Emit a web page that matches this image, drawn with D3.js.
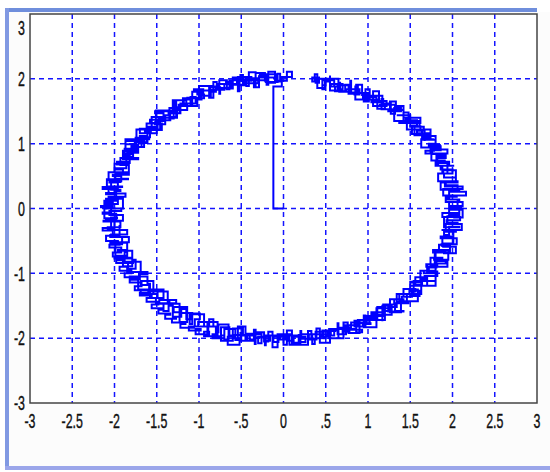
<!DOCTYPE html>
<html>
<head>
<script src="https://d3js.org/d3.v7.min.js"></script>
<style>
  body { margin: 0; background: #fff; }
</style>
</head>
<body>
<div id="chart"></div>
<script>
// axis ticks
var xTicks = [-3, -2.5, -2, -1.5, -1, -0.5, 0, 0.5, 1, 1.5, 2, 2.5, 3];
var xTickLabels = ["-3", "-2.5", "-2", "-1.5", "-1", "-.5", "0", ".5", "1", "1.5", "2", "2.5", "3"];
var yTicks = [-3, -2, -1, 0, 1, 2, 3];
var yTickLabels = ["-3", "-2", "-1", "0", "1", "2", "3"];

// trace (stair plot): out anticlockwise...
var traceOut = [
  [0, 0], [-0.12, 1.88],
  [-0.02, 2.03], [0.1, 2.11], [0.04, 1.97], [-0.08, 2.07], [-0.2, 1.94], [-0.1, 2.02], [-0.28, 2.06], [-0.18, 1.98],
  [-0.36, 2.01], [-0.3, 1.93], [-0.45, 2.03], [-0.38, 1.97], [-0.52, 1.9], [-0.46, 1.99], [-0.6, 2.02], [-0.55, 1.92],
  [-0.68, 1.95], [-0.62, 1.86], [-0.78, 1.92], [-0.7, 1.83], [-0.88, 1.88], [-0.8, 1.8], [-0.86, 1.74], [-0.95, 1.84],
  [-1.02, 1.76], [-0.94, 1.7], [-1.1, 1.72], [-1.04, 1.62], [-1.18, 1.68], [-1.1, 1.58], [-1.24, 1.6], [-1.14, 1.52],
  [-1.3, 1.56], [-1.22, 1.47], [-1.36, 1.5], [-1.26, 1.4], [-1.42, 1.44], [-1.34, 1.36], [-1.48, 1.38], [-1.4, 1.3],
  [-1.52, 1.33], [-1.46, 1.22], [-1.6, 1.26], [-1.5, 1.16], [-1.64, 1.2], [-1.58, 1.1], [-1.7, 1.12], [-1.62, 1.02],
  [-1.76, 1.05], [-1.68, 0.95], [-1.8, 0.98], [-1.72, 0.86], [-1.85, 0.9], [-1.78, 0.8], [-1.9, 0.82], [-1.82, 0.7],
  [-1.94, 0.72], [-1.86, 0.62], [-1.98, 0.6], [-1.9, 0.52], [-2.02, 0.5], [-1.92, 0.42], [-2.06, 0.4], [-1.96, 0.3],
  [-2.14, 0.33], [-2.0, 0.22], [-2.1, 0.24], [-1.98, 0.12], [-2.12, 0.1], [-2.02, 0.02], [-2.16, 0.04], [-2.04, -0.06],
  [-2.14, -0.08], [-1.98, -0.16], [-2.1, -0.2], [-2.0, -0.3], [-2.14, -0.34], [-2.02, -0.42], [-2.1, -0.5], [-1.96, -0.56],
  [-2.06, -0.6], [-1.92, -0.68], [-2.02, -0.74], [-1.88, -0.8], [-1.98, -0.84], [-1.84, -0.9], [-1.94, -0.96], [-1.8, -1.0],
  [-1.88, -1.06], [-1.74, -1.1], [-1.82, -1.14], [-1.68, -1.2], [-1.76, -1.26], [-1.6, -1.3], [-1.7, -1.34], [-1.56, -1.38],
  [-1.62, -1.44], [-1.48, -1.48], [-1.56, -1.54], [-1.42, -1.56], [-1.48, -1.62], [-1.34, -1.64], [-1.4, -1.7], [-1.26, -1.7],
  [-1.32, -1.76], [-1.16, -1.78], [-1.22, -1.84], [-1.06, -1.82], [-1.12, -1.88], [-0.98, -1.86], [-1.04, -1.94], [-0.88, -1.9],
  [-0.94, -1.97], [-0.78, -1.94], [-0.84, -2.0], [-0.7, -1.96], [-0.74, -2.04], [-0.6, -1.98], [-0.66, -2.1], [-0.52, -2.0],
  [-0.58, -1.95], [-0.44, -2.04], [-0.5, -1.96], [-0.34, -2.02], [-0.4, -1.94], [-0.26, -2.08], [-0.3, -1.98], [-0.16, -2.04],
  [-0.22, -1.96], [-0.06, -2.06], [-0.12, -1.98], [0.02, -2.02],
  [-0.04, -1.94], [0.1, -2.04], [0.06, -1.96], [0.18, -2.08], [0.12, -1.98], [0.26, -2.06], [0.2, -1.94], [0.34, -2.02],
  [0.3, -1.94], [0.44, -2.0], [0.38, -1.9], [0.52, -1.98], [0.46, -1.88], [0.6, -1.96], [0.56, -1.86], [0.7, -1.94],
  [0.64, -1.84], [0.78, -1.9], [0.72, -1.8], [0.86, -1.86], [0.8, -1.76], [0.94, -1.82], [0.88, -1.72], [1.02, -1.78],
  [0.96, -1.66], [1.1, -1.72], [1.04, -1.6], [1.18, -1.66], [1.1, -1.54], [1.26, -1.58], [1.18, -1.48], [1.34, -1.52],
  [1.26, -1.4], [1.42, -1.44], [1.34, -1.32], [1.5, -1.36], [1.42, -1.24], [1.56, -1.28], [1.5, -1.14], [1.64, -1.18],
  [1.56, -1.06], [1.7, -1.08], [1.62, -0.96], [1.76, -0.98], [1.7, -0.86], [1.82, -0.88], [1.74, -0.76], [1.88, -0.78],
  [1.8, -0.66], [1.92, -0.68], [1.84, -0.56], [1.96, -0.58], [1.88, -0.46], [2.0, -0.46], [1.9, -0.36], [2.04, -0.34],
  [1.92, -0.24], [2.06, -0.22], [1.94, -0.12], [2.08, -0.1], [1.96, -0.02], [2.1, 0.02],
  [1.96, 0.1], [2.08, 0.14], [1.94, 0.2], [2.16, 0.26], [1.98, 0.3], [2.06, 0.36], [1.92, 0.42], [2.04, 0.48],
  [1.9, 0.54], [2.0, 0.6], [1.86, 0.66], [1.96, 0.72], [1.82, 0.78], [1.92, 0.84], [1.76, 0.9], [1.86, 0.96],
  [1.72, 1.0], [1.8, 1.06], [1.64, 1.1], [1.74, 1.16], [1.58, 1.2], [1.66, 1.26], [1.5, 1.28], [1.58, 1.36],
  [1.42, 1.36], [1.5, 1.44], [1.34, 1.44], [1.42, 1.52], [1.24, 1.5], [1.32, 1.6], [1.14, 1.58], [1.22, 1.66],
  [1.04, 1.64], [1.1, 1.72], [0.94, 1.7], [1.0, 1.78], [0.84, 1.76], [0.9, 1.84], [0.74, 1.8], [0.8, 1.9],
  [0.64, 1.84], [0.7, 1.92], [0.56, 1.88], [0.6, 1.98], [0.46, 1.9], [0.5, 2.0], [0.38, 1.94], [0.42, 2.02], [0.34, 1.96]
];

// ...back clockwise, staying clear of the gap at the top...
var traceBack = [
  [0.37, 2.07], [0.40, 1.86], [0.49, 1.96], [0.55, 2.05], [0.55, 1.82], [0.67, 1.94], [0.66, 1.80], [0.79, 1.97],
  [0.80, 1.79], [0.88, 1.88], [0.85, 1.68], [1.02, 1.84], [0.97, 1.68], [1.13, 1.81], [1.06, 1.58], [1.18, 1.69],
  [1.16, 1.53], [1.33, 1.65], [1.26, 1.50], [1.39, 1.55], [1.31, 1.35], [1.48, 1.48], [1.42, 1.32], [1.62, 1.40],
  [1.46, 1.22], [1.62, 1.27], [1.55, 1.13], [1.74, 1.22], [1.64, 1.07], [1.78, 1.07], [1.63, 0.94], [1.85, 0.98],
  [1.74, 0.85], [1.94, 0.91], [1.75, 0.74], [1.92, 0.74], [1.80, 0.66], [2.02, 0.66], [1.88, 0.54], [2.01, 0.54],
  [1.83, 0.42], [2.06, 0.40], [1.91, 0.34], [2.12, 0.30], [1.89, 0.20], [2.05, 0.18], [1.92, 0.10], [2.12, 0.04],
  [1.96, 0], [2.08, -0.07], [1.88, -0.13], [2.09, -0.18], [1.93, -0.24], [2.11, -0.33], [1.87, -0.33], [2.01, -0.43],
  [1.86, -0.46], [2.05, -0.55], [1.87, -0.57], [1.97, -0.68], [1.77, -0.64], [1.95, -0.79], [1.77, -0.79], [1.94, -0.90],
  [1.69, -0.86], [1.80, -1.0], [1.66, -0.96], [1.80, -1.12], [1.62, -1.10], [1.70, -1.19], [1.50, -1.13], [1.63, -1.32],
  [1.49, -1.25], [1.59, -1.43], [1.37, -1.32], [1.46, -1.46], [1.31, -1.40], [1.39, -1.60], [1.26, -1.50], [1.28, -1.64],
  [1.11, -1.52], [1.20, -1.72], [1.06, -1.63], [1.10, -1.83], [0.95, -1.65], [0.97, -1.82], [0.84, -1.73], [0.90, -1.92],
  [0.77, -1.81], [0.74, -1.94], [0.64, -1.77], [0.65, -2.0], [0.54, -1.86], [0.55, -2.07], [0.43, -1.85], [0.39, -2.02],
  [0.33, -1.89], [0.29, -2.10], [0.20, -1.95], [0.18, -2.07], [0.10, -1.88], [0.04, -2.10],
  [0, -1.94], [-0.07, -2.14], [-0.13, -1.90], [-0.18, -2.05], [-0.23, -1.91], [-0.33, -2.09], [-0.34, -1.93], [-0.43, -2.03],
  [-0.45, -1.82], [-0.54, -2.03], [-0.57, -1.86], [-0.70, -2.02], [-0.65, -1.79], [-0.77, -1.91], [-0.78, -1.75], [-0.90, -1.92],
  [-0.89, -1.75], [-1.01, -1.82], [-0.94, -1.63], [-1.11, -1.78], [-1.08, -1.61], [-1.23, -1.75], [-1.14, -1.52], [-1.30, -1.60],
  [-1.23, -1.47], [-1.42, -1.58], [-1.36, -1.41], [-1.47, -1.47], [-1.37, -1.28], [-1.58, -1.38], [-1.49, -1.25], [-1.69, -1.32],
  [-1.54, -1.12], [-1.69, -1.18], [-1.61, -1.05], [-1.82, -1.09], [-1.70, -0.98], [-1.84, -0.98], [-1.69, -0.82], [-1.90, -0.89],
  [-1.79, -0.76], [-2.0, -0.77], [-1.79, -0.65], [-1.96, -0.64], [-1.85, -0.53], [-2.05, -0.55], [-1.91, -0.44], [-2.04, -0.40],
  [-1.85, -0.33], [-2.08, -0.29], [-1.93, -0.20], [-2.13, -0.19], [-1.90, -0.10], [-2.06, -0.04],
  [-1.92, 0], [-2.12, 0.07], [-1.96, 0.14], [-2.07, 0.18], [-1.87, 0.23], [-2.07, 0.33], [-1.91, 0.34], [-2.09, 0.45],
  [-1.84, 0.46], [-1.99, 0.53], [-1.84, 0.56], [-2.0, 0.69], [-1.84, 0.67], [-1.93, 0.78], [-1.72, 0.76], [-1.90, 0.89],
  [-1.73, 0.88], [-1.87, 1.04], [-1.65, 0.95], [-1.75, 1.09], [-1.59, 1.07], [-1.74, 1.22], [-1.57, 1.18], [-1.62, 1.31],
  [-1.44, 1.21], [-1.56, 1.41], [-1.40, 1.35], [-1.51, 1.51], [-1.30, 1.39], [-1.35, 1.55], [-1.23, 1.47], [-1.31, 1.67],
  [-1.15, 1.59], [-1.19, 1.70], [-1.02, 1.58], [-1.08, 1.80], [-0.97, 1.68], [-1.0, 1.89], [-0.83, 1.71], [-0.87, 1.87],
  [-0.75, 1.77], [-0.76, 1.98], [-0.67, 1.84], [-0.64, 1.98], [-0.52, 1.81], [-0.54, 2.03], [-0.44, 1.89], [-0.41, 2.10],
  [-0.33, 1.87], [-0.29, 2.04], [-0.20, 1.91], [-0.18, 2.11], [-0.10, 1.96], [-0.04, 2.08]
];

// ...and anticlockwise once more
var traceAgain = [
  [-0.07, 2.06], [-0.07, 1.95], [-0.21, 1.97], [-0.22, 2.09], [-0.33, 1.87], [-0.35, 1.99], [-0.51, 2.06], [-0.48, 1.91],
  [-0.64, 1.96], [-0.60, 1.85], [-0.74, 1.84], [-0.79, 1.95], [-0.83, 1.71], [-0.88, 1.82], [-1.06, 1.84], [-0.99, 1.71],
  [-1.15, 1.71], [-1.09, 1.62], [-1.22, 1.56], [-1.29, 1.65], [-1.27, 1.41], [-1.35, 1.50], [-1.52, 1.47], [-1.42, 1.37],
  [-1.58, 1.32], [-1.49, 1.25], [-1.60, 1.16], [-1.70, 1.23], [-1.61, 1.01], [-1.71, 1.07], [-1.87, 0.99], [-1.74, 0.92],
  [-1.88, 0.84], [-1.78, 0.79], [-1.86, 0.68], [-1.97, 0.72], [-1.83, 0.52], [-1.94, 0.56], [-2.07, 0.44], [-1.93, 0.41],
  [-2.04, 0.29], [-1.93, 0.27], [-1.98, 0.14], [-2.10, 0.15], [-1.90, 0], [-2.02, 0],
  [-2.12, -0.15], [-1.97, -0.14], [-2.04, -0.29], [-1.93, -0.27], [-1.94, -0.41], [-2.05, -0.44], [-1.83, -0.52], [-1.94, -0.56],
  [-1.99, -0.73], [-1.85, -0.67], [-1.88, -0.84], [-1.78, -0.79], [-1.75, -0.93], [-1.85, -0.98], [-1.61, -1.01], [-1.71, -1.07],
  [-1.72, -1.25], [-1.59, -1.16], [-1.58, -1.32], [-1.49, -1.25], [-1.42, -1.38], [-1.51, -1.46], [-1.27, -1.41], [-1.35, -1.50],
  [-1.31, -1.67], [-1.21, -1.55], [-1.15, -1.71], [-1.09, -1.62], [-0.99, -1.71], [-1.05, -1.82], [-0.83, -1.71], [-0.88, -1.82],
  [-0.80, -1.97], [-0.74, -1.83], [-0.64, -1.96], [-0.60, -1.85], [-0.48, -1.92], [-0.51, -2.04], [-0.33, -1.87], [-0.35, -1.99],
  [-0.22, -2.11], [-0.21, -1.96], [-0.07, -2.06], [-0.07, -1.95],
  [0.07, -1.98], [0.07, -2.10], [0.20, -1.89], [0.21, -2.01], [0.37, -2.09], [0.34, -1.94], [0.50, -2.0], [0.47, -1.89],
  [0.61, -1.88], [0.65, -2.0], [0.71, -1.76], [0.76, -1.87], [0.93, -1.91], [0.86, -1.77], [1.03, -1.78], [0.98, -1.69],
  [1.11, -1.64], [1.17, -1.74], [1.17, -1.50], [1.24, -1.59], [1.42, -1.58], [1.32, -1.46], [1.48, -1.43], [1.40, -1.36],
  [1.52, -1.27], [1.61, -1.35], [1.54, -1.12], [1.63, -1.19], [1.80, -1.12], [1.67, -1.04], [1.82, -0.97], [1.72, -0.91],
  [1.81, -0.81], [1.92, -0.85], [1.79, -0.65], [1.90, -0.69], [2.04, -0.59], [1.89, -0.54], [2.01, -0.43], [1.91, -0.41],
  [1.96, -0.28], [2.08, -0.29], [1.90, -0.13], [2.02, -0.14],
  [2.12, 0], [1.97, 0], [2.06, 0.14], [1.95, 0.14], [1.96, 0.28], [2.08, 0.29], [1.86, 0.40], [1.98, 0.42],
  [2.04, 0.59], [1.89, 0.54], [1.94, 0.70], [1.83, 0.67], [1.81, 0.81], [1.92, 0.85], [1.68, 0.89], [1.78, 0.95],
  [1.80, 1.12], [1.67, 1.04], [1.67, 1.21], [1.58, 1.15], [1.52, 1.27], [1.61, 1.35], [1.37, 1.32], [1.45, 1.40],
  [1.42, 1.58], [1.32, 1.46], [1.27, 1.62], [1.20, 1.54], [1.11, 1.64], [1.17, 1.74], [0.95, 1.65], [1.01, 1.75],
  [0.93, 1.91], [0.86, 1.77], [0.77, 1.91], [0.73, 1.81], [0.61, 1.88], [0.65, 2.0], [0.46, 1.84], [0.49, 1.96]
];

var width = 550, height = 472;
var plot = { left: 30, right: 537, top: 14, bottom: 403 };

var svg = d3.select("#chart").append("svg")
  .attr("width", width)
  .attr("height", height);

// window frame
svg.append("rect").attr("x", 0).attr("y", 0).attr("width", width).attr("height", height).attr("fill", "#fff");
svg.append("rect").attr("x", 9).attr("y", 12).attr("width", width - 9).attr("height", 454).attr("fill", "#fcfcfc");
svg.append("rect").attr("x", 5).attr("y", 8).attr("width", 532).attr("height", 4).attr("fill", "#6f8edc");
svg.append("rect").attr("x", 5).attr("y", 8).attr("width", 4).attr("height", 462).attr("fill", "#8199e2");
svg.append("rect").attr("x", 5).attr("y", 466).attr("width", width - 5).attr("height", 4).attr("fill", "#9ba6ea");

var x = d3.scaleLinear().domain([-3, 3]).range([plot.left, plot.right]);
var y = d3.scaleLinear().domain([-3, 3]).range([plot.bottom, plot.top]);

svg.append("rect")
  .attr("x", plot.left).attr("y", plot.top)
  .attr("width", plot.right - plot.left).attr("height", plot.bottom - plot.top)
  .attr("fill", "#fff");

// grid
var grid = svg.append("g").attr("stroke", "#1414ff").attr("stroke-width", 1.5).attr("stroke-dasharray", "5,4");
grid.selectAll("line.vx").data(xTicks.slice(1, -1)).enter().append("line")
  .attr("x1", d => x(d)).attr("x2", d => x(d))
  .attr("y1", plot.top).attr("y2", plot.bottom);
grid.selectAll("line.hy").data(yTicks.slice(1, -1)).enter().append("line")
  .attr("x1", plot.left).attr("x2", plot.right)
  .attr("y1", d => y(d)).attr("y2", d => y(d));

// trace, one continuous stair line
var line = d3.line()
  .x(d => x(d[0]))
  .y(d => y(d[1]))
  .curve(d3.curveStepAfter);

svg.append("path")
  .datum(traceOut.concat(traceBack, traceAgain))
  .attr("d", line)
  .attr("fill", "none")
  .attr("stroke", "#0000ff")
  .attr("stroke-width", 2);

// box
svg.append("rect")
  .attr("x", plot.left).attr("y", plot.top)
  .attr("width", plot.right - plot.left).attr("height", plot.bottom - plot.top)
  .attr("fill", "none").attr("stroke", "#444").attr("stroke-width", 1.5);

// tick labels (tall, narrow)
var font = "Liberation Sans, Arial, sans-serif";
svg.append("g").selectAll("text").data(xTicks).enter().append("text")
  .attr("transform", d => "translate(" + x(d) + ",428) scale(0.62,1)")
  .attr("text-anchor", "middle")
  .attr("font-family", font).attr("font-size", 20)
  .attr("fill", "#111").attr("stroke", "#111").attr("stroke-width", 0.4)
  .text((d, i) => xTickLabels[i]);

svg.append("g").selectAll("text").data(yTicks).enter().append("text")
  .attr("transform", d => "translate(25," + (d === 3 ? 28 : y(d)) + ") scale(0.62,1)")
  .attr("text-anchor", "end")
  .attr("dy", "0.36em")
  .attr("font-family", font).attr("font-size", 20)
  .attr("fill", "#111").attr("stroke", "#111").attr("stroke-width", 0.4)
  .text((d, i) => yTickLabels[i]);
</script>
</body>
</html>
